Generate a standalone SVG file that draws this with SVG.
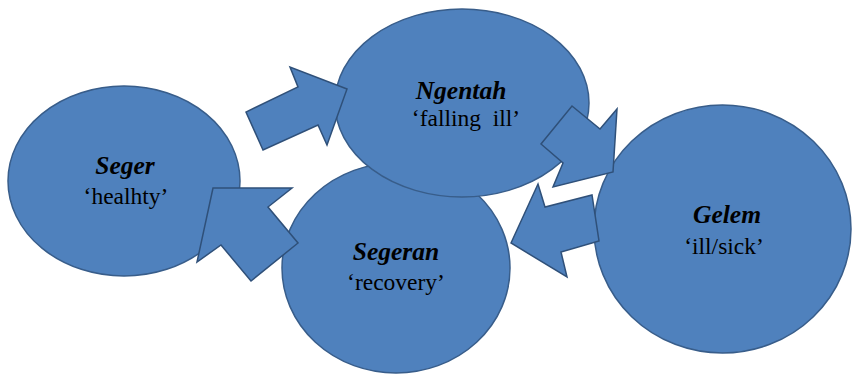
<svg xmlns="http://www.w3.org/2000/svg" width="853" height="374" viewBox="0 0 853 374">
<style>
.n{fill:#4F81BD;stroke:#385D8A;stroke-width:1.5}
.a{fill:#4F81BD;stroke:#2F5079;stroke-width:1.5;stroke-linejoin:miter}
.t{font-family:"Liberation Serif","Times New Roman",serif;fill:#000;text-anchor:middle}
.h{font-size:25.5px;font-weight:bold;font-style:italic}
.g{font-size:23.5px}
</style>
<rect width="853" height="374" fill="#fff"/>
<g id="seger">
<ellipse class="n" cx="124" cy="181" rx="116" ry="95"/>
<text class="t h" x="125" y="174">Seger</text>
<text class="t g" x="126" y="204">‘healhty’</text>
</g>
<g id="segeran">
<ellipse class="n" cx="396" cy="268" rx="114" ry="105"/>
<text class="t h" x="396" y="260">Segeran</text>
<text class="t g" x="396" y="290">‘recovery’</text>
</g>
<g id="ngentah">
<ellipse class="n" cx="462" cy="103" rx="127" ry="94"/>
<text class="t h" x="461" y="99">Ngentah</text>
<text class="t g" x="466" y="126">‘falling&#160; ill’</text>
</g>
<g id="gelem">
<ellipse class="n" cx="722.5" cy="229" rx="128.5" ry="124"/>
<text class="t h" x="727" y="223">Gelem</text>
<text class="t g" x="724" y="254">‘ill/sick’</text>
</g>
<g id="connectors">
<polygon class="a" points="263,150 246,112 298,87 290,67 347,89 327,145 318,125"/>
<polygon class="a" points="572,106 600,129 617,109 613,172 553,187 563,163 541,144"/>
<polygon class="a" points="511,243 538,184 545,207 592,195 599,241 561,252 567,277"/>
<polygon class="a" points="213,188 292,188 268,207 298,243 251,281 221,245 197,262"/>
</g>
</svg>
